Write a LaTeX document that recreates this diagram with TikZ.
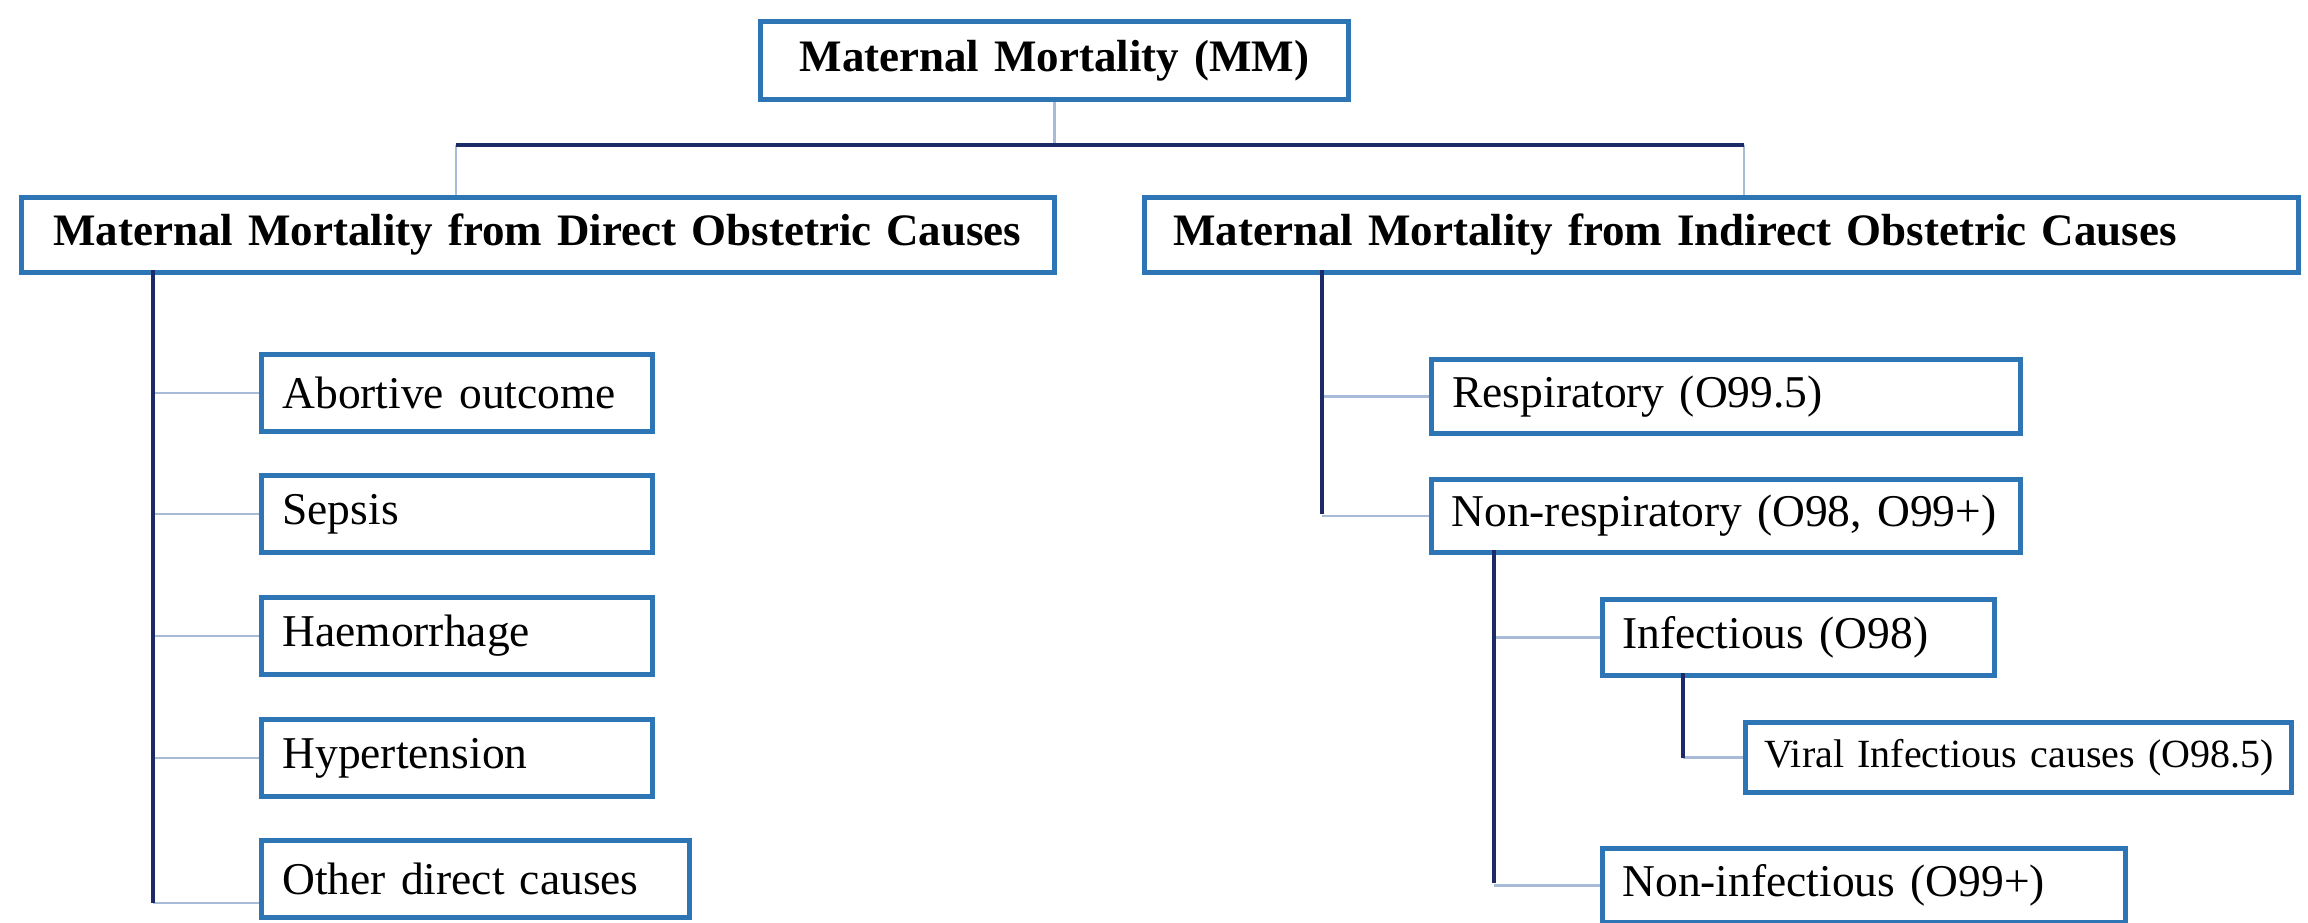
\documentclass[tikz,border=0pt]{standalone}
\usepackage{fontspec}
\setmainfont{Liberation Serif}
\definecolor{boxblue}{HTML}{2E75B6}
\definecolor{navy}{HTML}{1C2A68}
\definecolor{thinblue}{HTML}{A7BBD9}
\tikzset{
  bx/.style={draw=boxblue, line width=4.8pt, fill=white, anchor=north west, inner ysep=0pt, align=left},
  ttl/.style={font=\fontsize{45}{50}\selectfont\bfseries},
  itm/.style={font=\fontsize{45.5}{50}\selectfont},
  trunk/.style={draw=navy, line width=4pt},
  twig/.style={draw=thinblue, line width=2.2pt}
}
\begin{document}
\begin{tikzpicture}[x=1pt,y=-1pt]
\useasboundingbox (0,0) rectangle (2308,923);
% top
\node[bx,ttl,align=center,minimum width=588pt,minimum height=78pt,text width=560pt,inner xsep=14pt] (mm) at (758,19) {\mbox{Maternal Mortality (MM)}};
\node[bx,ttl,minimum width=1033pt,minimum height=75pt,text width=969pt,inner xsep=32pt] (direct) at (19,195) {\mbox{Maternal Mortality from Direct Obstetric Causes}};
\node[bx,ttl,minimum width=1154pt,minimum height=75pt,text width=1096pt,inner xsep=29pt] (indirect) at (1142,195) {\mbox{Maternal Mortality from Indirect Obstetric Causes}};
% left children
\node[bx,itm,minimum width=391pt,minimum height=77pt,text width=349pt,inner xsep=21pt] (abort) at (259,352) {\mbox{Abortive outcome}};
\node[bx,itm,minimum width=391pt,minimum height=77pt,text width=349pt,inner xsep=21pt] (sepsis) at (259,473) {\mbox{Sepsis}};
\node[bx,itm,minimum width=391pt,minimum height=77pt,text width=349pt,inner xsep=21pt] (haem) at (259,595) {\mbox{Haemorrhage}};
\node[bx,itm,minimum width=391pt,minimum height=77pt,text width=349pt,inner xsep=21pt] (hyper) at (259,717) {\mbox{Hypertension}};
\node[bx,itm,minimum width=428pt,minimum height=77pt,text width=386pt,inner xsep=21pt] (other) at (259,838) {\mbox{Other direct causes}};
% right children
\node[bx,itm,minimum width=589pt,minimum height=74pt,text width=547pt,inner xsep=21pt] (resp) at (1429,357) {\mbox{Respiratory (O99.5)}};
\node[bx,itm,minimum width=589pt,minimum height=73pt,text width=549pt,inner xsep=20pt] (nonresp) at (1429,477) {\mbox{Non-respiratory (O98, O99+)}};
\node[bx,itm,minimum width=392pt,minimum height=76pt,text width=352pt,inner xsep=20pt] (infect) at (1600,597) {\mbox{Infectious (O98)}};
\node[bx,minimum width=546pt,minimum height=70pt,text width=508pt,inner xsep=19pt,font=\fontsize{40}{45}\selectfont] (viral) at (1743,720) {\mbox{Viral Infectious causes (O98.5)}};
\node[bx,itm,minimum width=523pt,minimum height=74pt,text width=483pt,inner xsep=20pt] (noninf) at (1600,846) {\mbox{Non-infectious (O99+)}};
% coordinates
\coordinate (barL) at (456,145);
\coordinate (barR) at (1744,145);
\coordinate (tL) at (153,270);
\coordinate (tLend) at (153,903);
\coordinate (tI) at (1322,270);
\coordinate (tIend) at (1322,514);
\coordinate (tN) at (1494,550);
\coordinate (tNend) at (1494,883);
\coordinate (tV) at (1683,673);
\coordinate (tVend) at (1683,758);
% connectors
\draw[twig] (mm.south) -- (mm.south |- barL);
\draw[twig] (barL) -- (barL |- direct.north);
\draw[twig] (barR) -- (barR |- indirect.north);
\draw[trunk] (barL) -- (barR);
\draw[twig] (abort.west) -- (abort.west -| tL);
\draw[twig] (sepsis.west) -- (sepsis.west -| tL);
\draw[twig] (haem.west) -- (haem.west -| tL);
\draw[twig] (hyper.west) -- (hyper.west -| tL);
\draw[twig] (tLend) -- (tLend -| other.west);
\draw[trunk] (tL) -- (tLend);
\draw[twig] (resp.west) -- (resp.west -| tI);
\draw[twig] (nonresp.west) -- (nonresp.west -| tI);
\draw[trunk] (tI) -- (tIend);
\draw[twig] (infect.west) -- (infect.west -| tN);
\draw[twig] (noninf.west) -- (noninf.west -| tN);
\draw[trunk] (tN) -- (tNend);
\draw[twig] (viral.west) -- (viral.west -| tV);
\draw[trunk] (tV) -- (tVend);
\end{tikzpicture}
\end{document}
